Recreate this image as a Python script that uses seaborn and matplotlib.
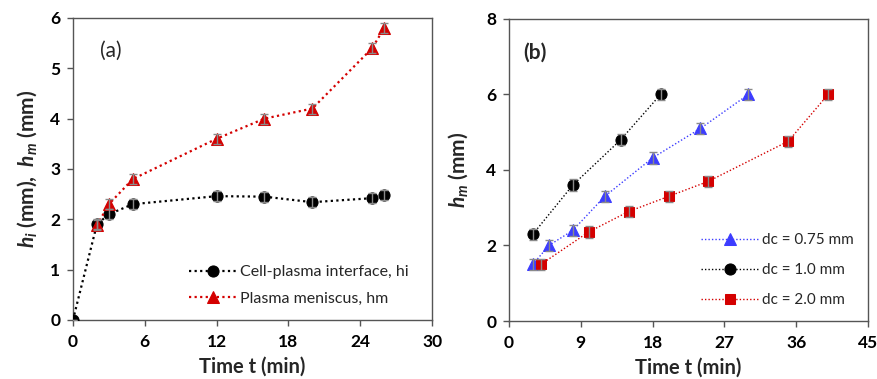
import numpy as np
import pandas as pd
import matplotlib
matplotlib.use("Agg")
import matplotlib.pyplot as plt
import seaborn as sns


# ------------------------------------------------------------------ #
# Data
# ------------------------------------------------------------------ #

# panel (a)
t_hi   = [0, 2, 3, 5, 12, 16, 20, 25, 26]
hi     = [0.0, 1.90, 2.10, 2.30, 2.46, 2.45, 2.34, 2.42, 2.49]
hi_err = [0.0, 0.10, 0.10, 0.10, 0.10, 0.10, 0.10, 0.10, 0.10]

t_hm   = [2, 3, 5, 12, 16, 20, 25, 26]
hm     = [1.88, 2.30, 2.80, 3.60, 4.00, 4.20, 5.40, 5.80]
hm_err = [0.10, 0.10, 0.10, 0.10, 0.10, 0.10, 0.10, 0.10]

# panel (b)
t_075   = [3, 5, 8, 12, 18, 24, 30]
hm_075  = [1.50, 2.00, 2.40, 3.30, 4.32, 5.10, 6.00]
err_075 = [0.15, 0.15, 0.15, 0.15, 0.15, 0.15, 0.15]

t_10   = [3, 8, 14, 19]
hm_10  = [2.30, 3.60, 4.80, 6.00]
err_10 = [0.15, 0.15, 0.15, 0.15]

t_20   = [4, 10, 15, 20, 25, 35, 40]
hm_20  = [1.50, 2.36, 2.90, 3.30, 3.70, 4.76, 6.00]
err_20 = [0.15, 0.15, 0.15, 0.15, 0.15, 0.15, 0.15]


# ------------------------------------------------------------------ #
# Style
# ------------------------------------------------------------------ #

sns.set_style("ticks")
plt.rcParams["font.family"] = ["Lato", "DejaVu Sans"]
plt.rcParams["mathtext.fontset"] = "custom"
plt.rcParams["mathtext.rm"] = "Lato:bold"
plt.rcParams["mathtext.it"] = "Lato:bold:italic"
plt.rcParams["axes.edgecolor"] = "#555555"
plt.rcParams["xtick.color"] = "#555555"
plt.rcParams["ytick.color"] = "#555555"
plt.rcParams["xtick.labelcolor"] = "black"
plt.rcParams["ytick.labelcolor"] = "black"

RED  = "#d40000"
BLUE = "#3c3cff"


def draw(ax, x, y, err, color, marker, ms, label, lw):
    df = pd.DataFrame({"t": x, "h": y})
    sns.lineplot(data=df, x="t", y="h", ax=ax, color=color,
                 linewidth=lw, dashes=False, marker=marker, markersize=ms,
                 markeredgecolor=color, label=label, sort=False, zorder=3)
    line = ax.get_lines()[-1]
    line.set_dashes((1, 1.5))
    ax.errorbar(x, y, yerr=err, fmt="none", ecolor="#8a8a8a",
                elinewidth=1.0, capsize=3, capthick=1.0, zorder=4)


fig = plt.figure(figsize=(8.78, 3.79), dpi=100)
ax_a = fig.add_axes([0.0831, 0.1557, 0.409, 0.797])
ax_b = fig.add_axes([0.5797, 0.153, 0.4089, 0.797])

# ------------------------------------------------------------------ #
# (a)
# ------------------------------------------------------------------ #
draw(ax_a, t_hi, hi, hi_err, "black", "o", 8, "Cell-plasma interface, hi", 1.6)
draw(ax_a, t_hm, hm, hm_err, RED, "^", 8, "Plasma meniscus, hm", 1.6)

ax_a.set_xlim(0, 30)
ax_a.set_ylim(0, 6)
ax_a.set_xticks(range(0, 31, 6))
ax_a.set_yticks(range(0, 7))
ax_a.set_xlabel("Time t (min)", fontsize=14.5, fontweight="bold", labelpad=5)
ax_a.set_ylabel(r"$h_i$ (mm),  $h_m$ (mm)", fontsize=15, fontweight="bold",
                labelpad=8)
ax_a.text(0.075, 0.89, "(a)", transform=ax_a.transAxes, fontsize=15,
          va="center", ha="left")
ax_a.legend(loc="lower right", bbox_to_anchor=(0.975, 0.0), frameon=False,
            fontsize=11.5, handlelength=3.0, labelspacing=0.75,
            handletextpad=0.2)

# ------------------------------------------------------------------ #
# (b)
# ------------------------------------------------------------------ #
draw(ax_b, t_075, hm_075, err_075, BLUE, "^", 8, "dc = 0.75 mm", 1.0)
draw(ax_b, t_10, hm_10, err_10, "black", "o", 8, "dc = 1.0 mm", 1.0)
draw(ax_b, t_20, hm_20, err_20, RED, "s", 7.5, "dc = 2.0 mm", 1.0)

ax_b.set_xlim(0, 45)
ax_b.set_ylim(0, 8)
ax_b.set_xticks(range(0, 46, 9))
ax_b.set_yticks(range(0, 9, 2))
ax_b.set_xlabel("Time t (min)", fontsize=14.5, fontweight="bold", labelpad=5)
ax_b.set_ylabel(r"$h_m$ (mm)", fontsize=15, fontweight="bold", labelpad=12)
ax_b.text(0.04, 0.89, "(b)", transform=ax_b.transAxes, fontsize=15,
          fontweight="bold", va="center", ha="left")
ax_b.legend(loc="lower right", bbox_to_anchor=(1.0, 0.0), frameon=False,
            fontsize=11, handlelength=3.8, labelspacing=1.05,
            handletextpad=0.2)

for ax in (ax_a, ax_b):
    for s in ax.spines.values():
        s.set_visible(True)
        s.set_linewidth(1.0)
    ax.tick_params(axis="x", direction="out", length=4, width=1,
                   labelsize=12.5, pad=6)
    ax.tick_params(axis="y", direction="out", length=4, width=1,
                   labelsize=12.5, pad=5)
    for lab in ax.get_xticklabels() + ax.get_yticklabels():
        lab.set_fontweight("bold")

fig.savefig("out.png", dpi=100)
